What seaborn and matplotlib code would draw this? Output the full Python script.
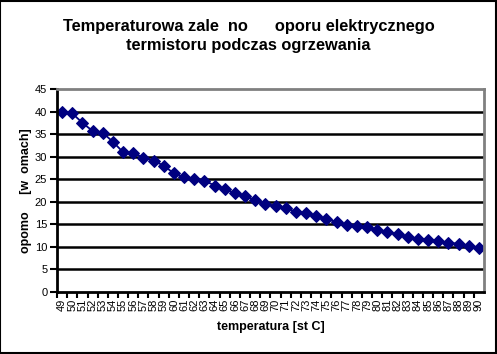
import matplotlib
matplotlib.use("Agg")
import matplotlib.pyplot as plt
import seaborn as sns
import numpy as np
import pandas as pd
from matplotlib.ticker import FixedLocator

temperatures = list(range(49, 91))
resistance = [40.0, 39.6, 37.5, 35.7, 35.3, 33.3, 31.0, 30.8, 29.8, 29.1,
              28.0, 26.3, 25.4, 25.0, 24.7, 23.6, 22.8, 21.9, 21.2, 20.4,
              19.6, 19.0, 18.6, 17.8, 17.5, 16.8, 16.2, 15.5, 14.9, 14.6,
              14.3, 13.7, 13.3, 12.8, 12.2, 11.8, 11.6, 11.2, 10.9, 10.7,
              10.1, 9.8]
title_text = "Temperaturowa zale  no      oporu elektrycznego\ntermistoru podczas ogrzewania"
xlabel_text = "temperatura [st C]"
ylabel_text = "opomo     [w  omach]"

sns.set_theme(style="white")
plt.rcParams['font.family'] = ['Liberation Sans', 'DejaVu Sans']
plt.rcParams['text.color'] = 'black'
plt.rcParams['axes.labelcolor'] = 'black'
plt.rcParams['xtick.color'] = 'black'
plt.rcParams['ytick.color'] = 'black'

df = pd.DataFrame({"t": temperatures, "r": resistance})

fig = plt.figure(figsize=(4.97, 3.54), dpi=100)
ax = fig.add_axes([57/497, 1-292/354, (484-57)/497, (292-89)/354])

sns.lineplot(data=df, x="t", y="r", ax=ax, color="#000080", linewidth=1.3,
             marker="D", markersize=6, markeredgecolor="#000080",
             markerfacecolor="#000080")

ax.set_xlim(temperatures[0]-0.5, temperatures[-1]+0.5)
ax.set_ylim(0, 45)
ax.set_yticks(np.arange(0, 46, 5))
ax.set_xticks(temperatures)
ax.set_xticklabels([str(t) for t in temperatures], rotation=90, fontsize=8)
ax.xaxis.set_minor_locator(FixedLocator([t+0.5 for t in temperatures[:-1]] + [temperatures[0]-0.5]))
ax.tick_params(axis='x', which='major', length=0, pad=5)
ax.tick_params(axis='x', which='minor', length=4, width=1.5, color='black', direction='out', bottom=True)
ax.tick_params(axis='y', which='major', length=5, width=1.5, color='black', direction='out', left=True, labelsize=8, pad=2)

for yv in range(5, 45, 5):
    ax.axhline(yv, color='black', linewidth=1.8, zorder=0)

for s in ['left', 'bottom']:
    ax.spines[s].set_color('black')
    ax.spines[s].set_linewidth(2)
for s in ['top', 'right']:
    ax.spines[s].set_color('#808080')
    ax.spines[s].set_linewidth(2)
    ax.spines[s].set_visible(True)

ax.set_xlabel(xlabel_text, fontsize=9, fontweight='bold', labelpad=7)
ax.set_ylabel(ylabel_text, fontsize=9, fontweight='bold', labelpad=2)

fig.text(0.5, 1-36/354, title_text, ha='center', va='center', fontsize=11.8,
         fontweight='bold', linespacing=1.3)

border = plt.Rectangle((0.001, 0.002), 0.997, 0.996, transform=fig.transFigure,
                       fill=False, edgecolor='black', linewidth=1.5)
fig.patches.append(border)

fig.savefig("out.png", dpi=100)
